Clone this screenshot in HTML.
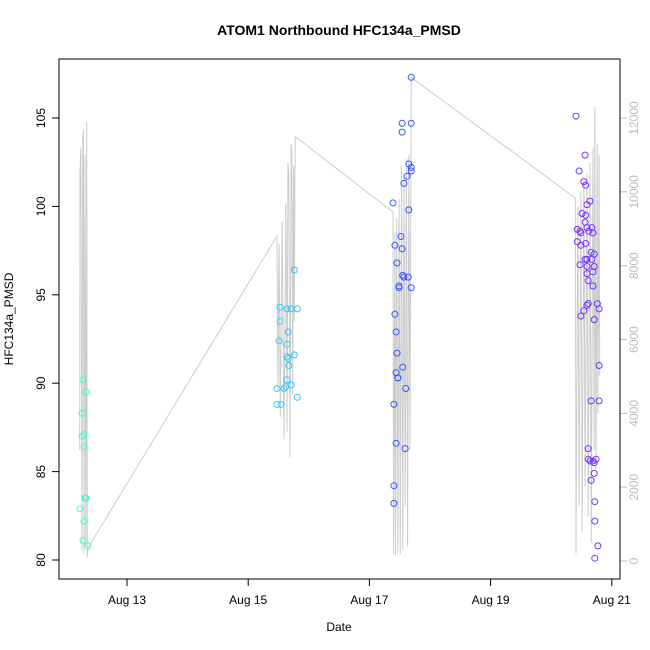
<!DOCTYPE html>
<html><head><meta charset="utf-8"><style>
html,body{margin:0;padding:0;background:#fff;}
svg{display:block;font-family:"Liberation Sans",sans-serif;}
</style></head><body>
<svg id="chart" width="650" height="650" viewBox="0 0 650 650">
<text x="339" y="35" text-anchor="middle" font-weight="bold" font-size="14">ATOM1 Northbound HFC134a_PMSD</text>
<text x="339" y="631" text-anchor="middle" font-size="12">Date</text>
<text x="13" y="319" text-anchor="middle" font-size="12" transform="rotate(-90 13 319)">HFC134a_PMSD</text>
<g id="line-layer"></g>
<g id="pt-layer"></g>
<g id="axes"></g>
<rect x="59" y="59" width="561" height="520" fill="none" stroke="#000" stroke-width="1"/>
</svg>
<script>
// Points: time in days since Aug 13 00:00, value
const ptTimes = [-0.776,-0.726,-0.743,-0.743,-0.71,-0.71,-0.726,-0.677,-0.693,-0.677,-0.71,-0.644,
2.76,2.525,2.64,2.71,2.81,2.525,2.66,2.51,2.64,2.64,2.66,2.76,2.67,2.64,2.71,2.475,2.59,2.62,2.81,2.475,2.54,
4.69,4.54,4.69,4.54,4.65,4.69,4.69,4.62,4.57,4.39,4.65,4.52,4.42,4.54,4.455,4.55,4.64,4.57,4.49,4.49,4.69,4.42,4.44,4.455,4.44,4.55,4.47,4.47,4.60,4.405,4.44,4.59,4.405,4.405,
7.41,7.56,7.46,7.54,7.57,7.64,7.59,7.51,7.57,7.56,7.43,7.49,7.475,7.59,7.67,7.69,7.62,7.43,7.49,7.57,7.66,7.71,7.56,7.59,7.67,7.475,7.59,7.71,7.69,7.59,7.61,7.69,7.61,7.59,7.76,7.54,7.49,7.79,7.71,7.79,7.66,7.79,7.61,7.61,7.64,7.69,7.74,7.71,7.71,7.66,7.72,7.72,7.77,7.72];
const ptValues = [82.9,81.1,88.3,87.0,87.1,86.4,90.2,89.5,83.5,83.5,82.2,80.8,
96.4,94.3,94.2,94.2,94.2,93.5,92.9,92.4,92.2,91.5,91.4,91.6,91.0,90.2,89.9,89.7,89.7,89.8,89.2,88.8,88.8,
107.3,104.7,104.7,104.2,102.4,102.2,102.0,101.7,101.3,100.2,99.8,98.3,97.8,97.6,96.8,96.1,96.0,96.0,95.5,95.4,95.4,93.9,92.9,91.7,90.6,90.9,90.3,90.3,89.7,88.8,86.6,86.3,84.2,83.2,
105.1,102.9,102.0,101.4,101.2,100.3,100.1,99.6,99.5,99.1,98.7,98.5,98.6,98.8,98.8,98.5,98.6,98.0,97.8,97.9,97.4,97.3,97.0,97.0,97.0,96.7,96.6,96.6,96.3,96.2,95.8,95.5,94.5,94.4,94.5,94.1,93.8,94.2,93.6,91.0,89.0,89.0,86.3,85.7,85.6,85.6,85.7,85.5,84.9,84.5,83.3,82.2,80.8,80.1];
// Secondary series (right axis)
const lineTimes = [-0.78,-0.775,-0.76,-0.745,-0.73,-0.72,-0.71,-0.695,-0.68,-0.665,-0.655,-0.645,
2.475,2.49,2.51,2.53,2.56,2.59,2.62,2.64,2.655,2.67,2.69,2.71,2.72,2.735,2.75,2.76,2.775,
4.39,4.40,4.42,4.43,4.45,4.47,4.49,4.51,4.53,4.55,4.57,4.59,4.61,4.63,4.65,4.67,4.69,
7.40,7.41,7.44,7.46,7.49,7.51,7.54,7.56,7.59,7.61,7.64,7.66,7.69,7.71,7.72,7.74,7.76,7.77,7.79,7.80];
const lineValues = [3000,10600,11200,300,11500,11700,200,11000,400,11900,100,350,
8800,4600,8600,3900,9200,3300,9700,3500,10800,10500,2800,11300,11100,4500,10700,6500,11500,
9450,200,8900,150,9300,250,9800,200,10700,300,10400,1500,10900,400,11000,3000,13100,
9830,200,9600,1500,10000,800,10300,2000,10500,1200,10800,500,11200,3000,12300,2500,11300,4000,11000,5000];
const xTickDays = [0,2,4,6,8];
const xTickLabels = ["Aug 13","Aug 15","Aug 17","Aug 19","Aug 21"];
const yTicks = [80,85,90,95,100,105];
const y2Ticks = [0,2000,4000,6000,8000,10000,12000];

const NS="http://www.w3.org/2000/svg";
const xS = t => 127 + 60.6*t;
const yS = v => 560 - (v-80)*17.68;
const y2S = r => 561 - r*(443/12000);
function mk(tag, attrs, parent){const e=document.createElementNS(NS,tag);for(const k in attrs)e.setAttribute(k,attrs[k]);parent.appendChild(e);return e;}
function colorFor(t){
  const stops=[[-0.8,[64,255,200]],[2.6,[51,204,255]],[4.5,[51,85,255]],[7.6,[119,51,255]]];
  if(t<=stops[0][0])return stops[0][1];
  for(let i=1;i<stops.length;i++){if(t<=stops[i][0]){const a=stops[i-1],b=stops[i],f=(t-a[0])/(b[0]-a[0]);return a[1].map((c,j)=>Math.round(c+(b[1][j]-c)*f));}}
  return stops[stops.length-1][1];
}
const ll=document.getElementById('line-layer');
const pl=mk('polyline',{points:lineTimes.map((t,i)=>xS(t).toFixed(1)+','+y2S(lineValues[i]).toFixed(1)).join(' '),fill:'none',stroke:'#cccccc','stroke-width':1},ll);


const pt=document.getElementById('pt-layer');
ptTimes.forEach((t,i)=>{
  const c=colorFor(t);
  const e=mk('circle',{cx:xS(t).toFixed(1),cy:yS(ptValues[i]).toFixed(1),r:3,fill:'none',stroke:`rgb(${c.join(',')})`,'stroke-width':1},pt);
  
  
});
const ax=document.getElementById('axes');
mk('line',{x1:xS(xTickDays[0]),x2:xS(xTickDays[xTickDays.length-1]),y1:579,y2:579,stroke:'#000'},ax);
xTickDays.forEach((d,i)=>{
  const x=xS(d);
  mk('line',{x1:x,x2:x,y1:579,y2:586,stroke:'#000'},ax);
  const tx=mk('text',{x:x,y:604,'text-anchor':'middle','font-size':12},ax);tx.textContent=xTickLabels[i];
  
  
});
mk('line',{x1:59,x2:59,y1:yS(80),y2:yS(105),stroke:'#000'},ax);
yTicks.forEach(v=>{
  const y=yS(v);
  mk('line',{x1:52,x2:59,y1:y,y2:y,stroke:'#000'},ax);
  const tx=mk('text',{x:45,y:y,'text-anchor':'middle','font-size':12,transform:`rotate(-90 45 ${y})`},ax);tx.textContent=v;
  
  
});
mk('line',{x1:620,x2:620,y1:y2S(0),y2:y2S(12000),stroke:'#bbb'},ax);
y2Ticks.forEach(v=>{
  const y=y2S(v);
  mk('line',{x1:620,x2:627,y1:y,y2:y,stroke:'#bbb'},ax);
  const tx=mk('text',{x:638,y:y,'text-anchor':'middle','font-size':12,fill:'#bbb',transform:`rotate(-90 638 ${y})`},ax);tx.textContent=v;
  
  
});
</script>
</body></html>
